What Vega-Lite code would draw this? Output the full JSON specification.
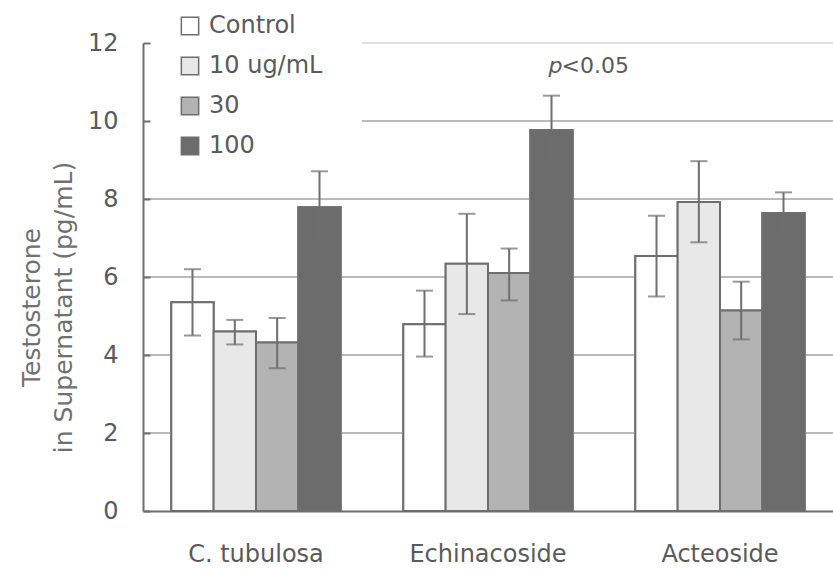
{
  "$schema": "https://vega.github.io/schema/vega-lite/v6.json",
  "width": 690,
  "height": 468,
  "autosize": "none",
  "padding": {"left": 143, "top": 43, "right": 0, "bottom": 59},
  "background": "white",
  "config": {
    "view": {"stroke": null},
    "font": "DejaVu Sans",
    "axis": {"labelFont": "DejaVu Sans", "titleFont": "DejaVu Sans", "labelColor": "#5a5a5a", "titleColor": "#6a6a6a", "titleFontWeight": "normal"},
    "legend": {"labelFont": "DejaVu Sans"}
  },
  "datasets": {
    "bars": [
      {"group": "C. tubulosa", "dose": "Control", "mean": 5.35, "lo": 4.5, "hi": 6.2},
      {"group": "C. tubulosa", "dose": "10 ug/mL", "mean": 4.6, "lo": 4.27, "hi": 4.9},
      {"group": "C. tubulosa", "dose": "30", "mean": 4.32, "lo": 3.66, "hi": 4.95},
      {"group": "C. tubulosa", "dose": "100", "mean": 7.79, "lo": 6.88, "hi": 8.71},
      {"group": "Echinacoside", "dose": "Control", "mean": 4.79, "lo": 3.96, "hi": 5.65},
      {"group": "Echinacoside", "dose": "10 ug/mL", "mean": 6.34, "lo": 5.05, "hi": 7.62},
      {"group": "Echinacoside", "dose": "30", "mean": 6.1, "lo": 5.4, "hi": 6.73},
      {"group": "Echinacoside", "dose": "100", "mean": 9.77, "lo": 8.9, "hi": 10.65},
      {"group": "Acteoside", "dose": "Control", "mean": 6.54, "lo": 5.5, "hi": 7.57},
      {"group": "Acteoside", "dose": "10 ug/mL", "mean": 7.92, "lo": 6.89, "hi": 8.97},
      {"group": "Acteoside", "dose": "30", "mean": 5.14, "lo": 4.4, "hi": 5.88},
      {"group": "Acteoside", "dose": "100", "mean": 7.64, "lo": 7.11, "hi": 8.17}
    ],
    "gridFull": [{"g": 2}, {"g": 4}, {"g": 6}, {"g": 8}],
    "gridPart": [{"g": 10, "shade": "mid"}, {"g": 12, "shade": "light"}],
    "note": [{"group": "Echinacoside", "dose": "100", "y": 11.23}]
  },
  "layer": [
    {
      "data": {"name": "bars"},
      "mark": {"type": "bar", "stroke": "#6e6e6e", "strokeWidth": 2, "opacity": 1},
      "encoding": {
        "x": {
          "field": "group", "type": "nominal", "sort": ["C. tubulosa", "Echinacoside", "Acteoside"],
          "scale": {"paddingInner": 0.27, "paddingOuter": 0.122},
          "axis": {"title": null, "labelAngle": 0, "labelFontSize": 24, "labelPadding": 31, "ticks": false, "domainColor": "#6e6e6e", "domainWidth": 2, "zindex": 2}
        },
        "xOffset": {"field": "dose", "type": "nominal", "sort": ["Control", "10 ug/mL", "30", "100"], "scale": {"paddingInner": 0, "paddingOuter": 0}},
        "y": {
          "field": "mean", "type": "quantitative",
          "scale": {"domain": [0, 12], "nice": false},
          "axis": {
            "title": ["Testosterone", "in Supernatant (pg/mL)"],
            "values": [0, 2, 4, 6, 8, 10, 12],
            "grid": false,
            "labelFontSize": 24,
            "labelPadding": 32,
            "tickSize": -7,
            "tickColor": "#6e6e6e",
            "tickWidth": 2,
            "domainColor": "#6e6e6e",
            "domainWidth": 2,
            "titleFontSize": 25,
            "titleLineHeight": 32,
            "titleX": -112,
            "titleY": 264,
            "titleAngle": -90,
            "titleAlign": "center",
            "titleBaseline": "middle",
            "titleColor": "#707070",
            "zindex": 2
          }
        },
        "fill": {
          "field": "dose", "type": "nominal", "sort": ["Control", "10 ug/mL", "30", "100"],
          "scale": {"domain": ["Control", "10 ug/mL", "30", "100"], "range": ["#ffffff", "#e8e8e8", "#b3b3b3", "#6c6c6c"]},
          "legend": {
            "title": null, "orient": "none", "legendX": 35, "legendY": -29,
            "symbolType": "square", "symbolSize": 300, "symbolStrokeColor": "#6e6e6e", "symbolStrokeWidth": 1.5,
            "labelFontSize": 24, "labelColor": "#5a5a5a", "rowPadding": 16, "labelOffset": 7, "padding": 0
          }
        }
      }
    },
    {
      "data": {"name": "gridFull"},
      "mark": {"type": "rule", "color": "#a3a3a3", "strokeWidth": 1.5},
      "encoding": {
        "y": {"field": "g", "type": "quantitative"}
      }
    },
    {
      "data": {"name": "gridPart"},
      "mark": {"type": "rule", "strokeWidth": 1.5},
      "encoding": {
        "y": {"field": "g", "type": "quantitative"},
        "x": {"datum": "Echinacoside", "type": "nominal", "bandPosition": -0.244},
        "x2": {"value": "width"},
        "color": {"field": "shade", "type": "nominal", "scale": {"domain": ["mid", "light"], "range": ["#a3a3a3", "#d6d6d6"]}, "legend": null}
      }
    },
    {
      "data": {"name": "bars"},
      "mark": {"type": "bar", "stroke": "#6e6e6e", "strokeWidth": 2, "opacity": 1},
      "encoding": {
        "x": {"field": "group", "type": "nominal", "sort": ["C. tubulosa", "Echinacoside", "Acteoside"]},
        "xOffset": {"field": "dose", "type": "nominal", "sort": ["Control", "10 ug/mL", "30", "100"]},
        "y": {"field": "mean", "type": "quantitative"},
        "fill": {"field": "dose", "type": "nominal", "sort": ["Control", "10 ug/mL", "30", "100"]}
      }
    },
    {
      "data": {"name": "bars"},
      "mark": {"type": "rule", "color": "#6e6e6e", "strokeWidth": 2},
      "encoding": {
        "x": {"field": "group", "type": "nominal", "sort": ["C. tubulosa", "Echinacoside", "Acteoside"]},
        "xOffset": {"field": "dose", "type": "nominal", "sort": ["Control", "10 ug/mL", "30", "100"]},
        "y": {"field": "lo", "type": "quantitative"},
        "y2": {"field": "hi"}
      }
    },
    {
      "data": {"name": "bars"},
      "mark": {"type": "tick", "color": "#6e6e6e", "thickness": 2, "size": 17, "orient": "horizontal"},
      "encoding": {
        "x": {"field": "group", "type": "nominal", "sort": ["C. tubulosa", "Echinacoside", "Acteoside"]},
        "xOffset": {"field": "dose", "type": "nominal", "sort": ["Control", "10 ug/mL", "30", "100"]},
        "y": {"field": "hi", "type": "quantitative"}
      }
    },
    {
      "data": {"name": "bars"},
      "mark": {"type": "tick", "color": "#6e6e6e", "thickness": 2, "size": 17, "orient": "horizontal"},
      "encoding": {
        "x": {"field": "group", "type": "nominal", "sort": ["C. tubulosa", "Echinacoside", "Acteoside"]},
        "xOffset": {"field": "dose", "type": "nominal", "sort": ["Control", "10 ug/mL", "30", "100"]},
        "y": {"field": "lo", "type": "quantitative"}
      }
    },
    {
      "data": {"name": "note"},
      "mark": {"type": "text", "text": "p", "fontStyle": "italic", "fontSize": 22, "color": "#5a5a5a", "align": "left", "baseline": "alphabetic", "dx": -3},
      "encoding": {
        "x": {"field": "group", "type": "nominal", "sort": ["C. tubulosa", "Echinacoside", "Acteoside"]},
        "xOffset": {"field": "dose", "type": "nominal", "sort": ["Control", "10 ug/mL", "30", "100"]},
        "y": {"field": "y", "type": "quantitative"}
      }
    },
    {
      "data": {"name": "note"},
      "mark": {"type": "text", "text": "<0.05", "fontSize": 22, "color": "#5a5a5a", "align": "left", "baseline": "alphabetic", "dx": 10},
      "encoding": {
        "x": {"field": "group", "type": "nominal", "sort": ["C. tubulosa", "Echinacoside", "Acteoside"]},
        "xOffset": {"field": "dose", "type": "nominal", "sort": ["Control", "10 ug/mL", "30", "100"]},
        "y": {"field": "y", "type": "quantitative"}
      }
    }
  ]
}
